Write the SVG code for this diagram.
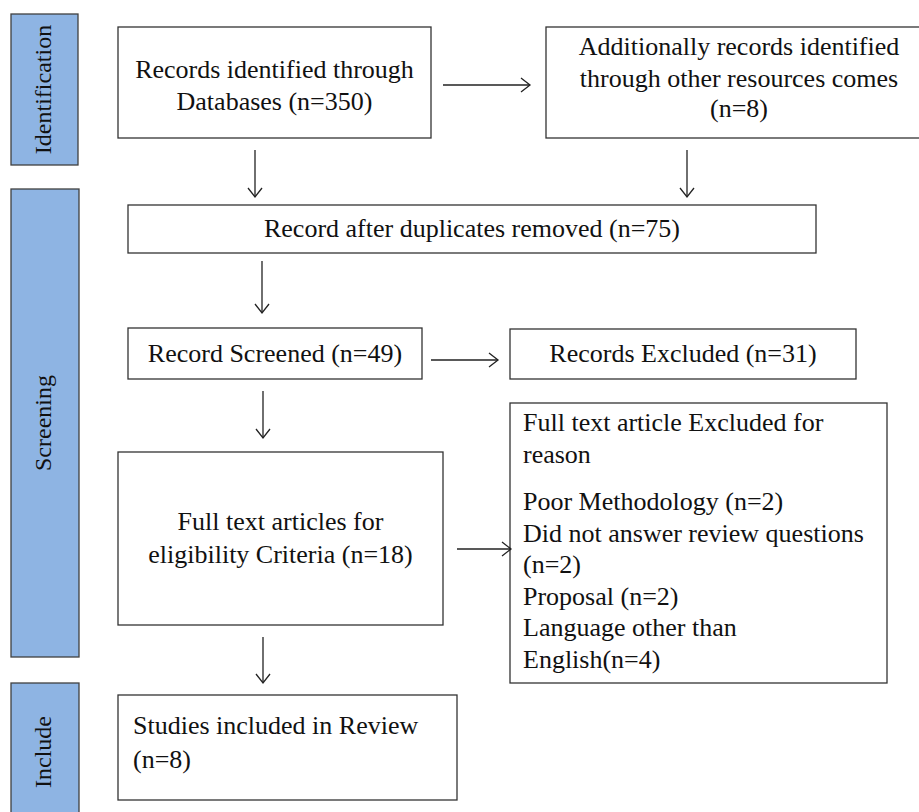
<svg xmlns="http://www.w3.org/2000/svg" width="919" height="812" viewBox="0 0 919 812">
<style>
.bar{fill:#8eb4e3;stroke:#404040;stroke-width:1.3}
.box{fill:#fff;stroke:#333;stroke-width:1.3}
.t{font-family:"Liberation Serif","Times New Roman",serif;font-size:26px;fill:#111}
.c{text-anchor:middle}
.lab{font-family:"Liberation Serif","Times New Roman",serif;font-size:24px;fill:#111;text-anchor:middle}
.ln{stroke:#222;stroke-width:1.3;fill:none}
</style>
<defs>
<marker id="ah" markerWidth="12" markerHeight="16" refX="10" refY="8" orient="auto" markerUnits="userSpaceOnUse">
<path d="M1,1 L10,8 L1,15" fill="none" stroke="#222" stroke-width="1.3"/>
</marker>
</defs>
<rect width="919" height="812" fill="#fff"/>
<g id="stage-identification">
<rect class="bar" x="11" y="14" width="67" height="151"/>
<text class="lab" transform="translate(51,89.5) rotate(-90)">Identification</text>
</g>
<g id="stage-screening">
<rect class="bar" x="11" y="189" width="68" height="468"/>
<text class="lab" transform="translate(51,423) rotate(-90)">Screening</text>
</g>
<g id="stage-include">
<rect class="bar" x="11" y="683" width="68" height="140"/>
<text class="lab" transform="translate(51,752) rotate(-90)">Include</text>
</g>
<g id="n-databases">
<rect class="box" x="118" y="27" width="313" height="111"/>
<text class="t c" x="274.5" y="78">Records identified through</text>
<text class="t c" x="274.5" y="110">Databases (n=350)</text>
</g>
<g id="n-other">
<rect class="box" x="546" y="27" width="390" height="111"/>
<text class="t c" x="739" y="55">Additionally records identified</text>
<text class="t c" x="739" y="87">through other resources comes</text>
<text class="t c" x="739" y="117">(n=8)</text>
</g>
<g id="n-duplicates">
<rect class="box" x="128" y="205" width="688" height="48"/>
<text class="t c" x="472" y="237">Record after duplicates removed (n=75)</text>
</g>
<g id="n-screened">
<rect class="box" x="128" y="328" width="294" height="51"/>
<text class="t c" x="275" y="362">Record Screened (n=49)</text>
</g>
<g id="n-excluded">
<rect class="box" x="510" y="329" width="346" height="50"/>
<text class="t c" x="683" y="362">Records Excluded (n=31)</text>
</g>
<g id="n-fulltext">
<rect class="box" x="118" y="452" width="325" height="173"/>
<text class="t c" x="280.5" y="530">Full text articles for</text>
<text class="t c" x="280.5" y="563">eligibility Criteria (n=18)</text>
</g>
<g id="n-ft-excluded">
<rect class="box" x="510" y="403" width="377" height="280"/>
<text class="t" x="523" y="431">Full text article Excluded for</text>
<text class="t" x="523" y="463">reason</text>
<text class="t" x="523" y="510">Poor Methodology (n=2)</text>
<text class="t" x="523" y="542">Did not answer review questions</text>
<text class="t" x="523" y="573">(n=2)</text>
<text class="t" x="523" y="605">Proposal (n=2)</text>
<text class="t" x="523" y="636">Language other than</text>
<text class="t" x="523" y="668">English(n=4)</text>
</g>
<g id="n-included">
<rect class="box" x="118" y="695" width="339" height="105"/>
<text class="t" x="133" y="734">Studies included in Review</text>
<text class="t" x="133" y="768">(n=8)</text>
</g>
<g id="connectors">
<line class="ln" x1="443" y1="85" x2="530" y2="85" marker-end="url(#ah)"/>
<line class="ln" x1="255" y1="150" x2="255" y2="197" marker-end="url(#ah)"/>
<line class="ln" x1="687" y1="150" x2="687" y2="197" marker-end="url(#ah)"/>
<line class="ln" x1="262" y1="261" x2="262" y2="313" marker-end="url(#ah)"/>
<line class="ln" x1="431" y1="360" x2="498" y2="360" marker-end="url(#ah)"/>
<line class="ln" x1="263" y1="391" x2="263" y2="438" marker-end="url(#ah)"/>
<line class="ln" x1="457" y1="549" x2="511" y2="549" marker-end="url(#ah)"/>
<line class="ln" x1="263" y1="637" x2="263" y2="683" marker-end="url(#ah)"/>
</g>
</svg>
